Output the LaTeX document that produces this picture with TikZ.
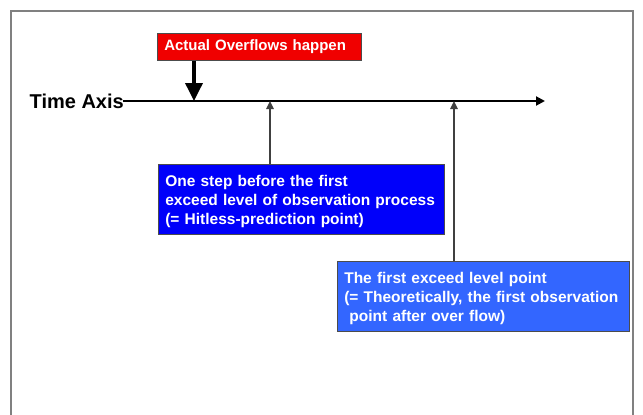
\documentclass[tikz,border=0pt]{standalone}
\usepackage{fontspec}
\setmainfont{Liberation Sans}
\usetikzlibrary{arrows.meta}
\definecolor{redbox}{RGB}{240,0,0}
\definecolor{bluebox}{RGB}{0,0,250}
\definecolor{lightblue}{RGB}{51,102,255}
\begin{document}
\begin{tikzpicture}[x=1pt,y=-1pt,
  box/.style={draw=black!70,line width=0.6pt,anchor=north west,inner xsep=7pt,inner ysep=0pt,
    text=white,font=\bfseries\fontsize{15.5}{19}\selectfont,align=left},
  uparrow/.style={draw=black!75,line width=1.3pt,-{Triangle[length=8pt,width=7.5pt]}},
  frame/.style={draw=black!50,line width=1.2pt}]
\useasboundingbox (0,0) rectangle (643,415);
\fill[white] (0,0) rectangle (643,415);
\draw[frame] (11,420) -- (11,11) -- (633,11) -- (633,420);
% red box
\node[box,fill=redbox,text width=190pt,minimum height=27pt,font=\bfseries\fontsize{15}{17}\selectfont,inner xsep=7pt] (red) at (157,33) {\raisebox{-1.5pt}{Actual Overflows happen}};
% time axis
\node[anchor=east,font=\bfseries\fontsize{20}{22}\selectfont,inner sep=1pt] (tlabel) at (125,101) {Time Axis};
\coordinate (axend) at (545,101);
\draw[line width=2pt,shorten <=-2pt,-{Triangle[length=9pt,width=9pt]}] (tlabel.east) -- (axend);
\coordinate (hit) at (194,101);
\draw[line width=3.6pt,-{Triangle[length=18pt,width=17pt]}] (red.south -| hit) -- (hit);
% box 1
\node[box,fill=bluebox,text width=272pt,minimum height=70pt] (b1) at (158,164) {\rule{0pt}{16pt}One step before the first\\exceed level of observation process\\(= Hitless-prediction point)};
\coordinate (p1) at (270,101);
\draw[uparrow] (b1.north -| p1) -- (p1);
% box 2
\node[box,fill=lightblue,text width=278pt,minimum height=70pt] (b2) at (337,261) {\rule{0pt}{16pt}The first exceed level point\\(= Theoretically, the first observation\\\ point after over flow)};
\coordinate (p2) at (454,101);
\draw[uparrow] (b2.north -| p2) -- (p2);
\end{tikzpicture}
\end{document}
